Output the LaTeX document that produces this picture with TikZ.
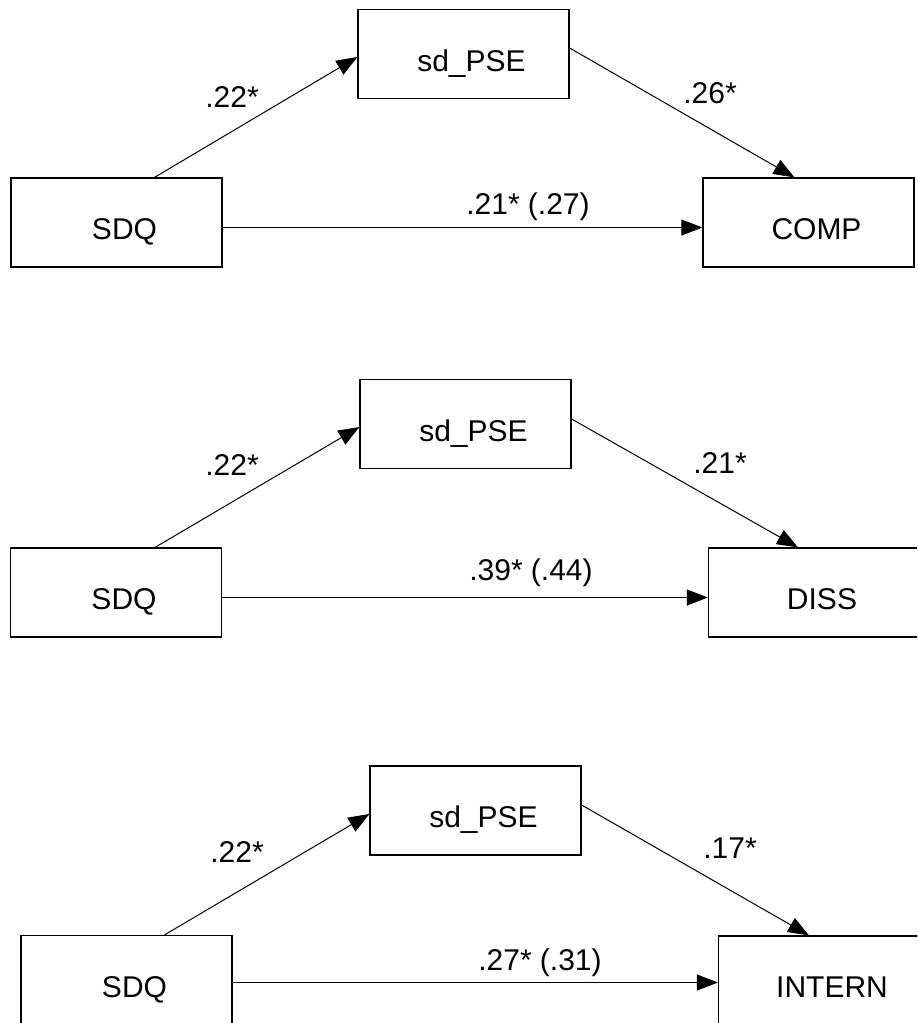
\documentclass[tikz,border=0pt]{standalone}
\usepackage{fontspec}
\setmainfont{Liberation Sans}
\usetikzlibrary{arrows.meta, positioning}

\begin{document}
\begin{tikzpicture}[x=0.5pt, y=-0.5pt,
  font=\fontsize{15}{18}\selectfont,
  var node/.style={rectangle, draw, line width=0.6pt, minimum width=105.5pt,
    minimum height=44.5pt, inner sep=0pt, text height=18pt, text depth=1pt,
    execute at begin node=\hspace*{8pt}},
  coef/.style={inner sep=1pt},
  pathline/.style={line width=0.5pt, -{Triangle[length=10.5pt, width=8pt]}}]
  \clip (0,0) rectangle (917,1023);

  % COMP
  \node[var node] (sdq1) at (116.5,222.5) {SDQ};
  \node[var node] (pse1) at (463.5,54) {sd\_PSE};
  \node[var node] (comp) at (808.5,222.5) {COMP};
  \coordinate (h1) at ([shift={(0,5)}]sdq1.east);
  \draw[pathline] ([shift={(38,0)}]sdq1.north) -- ([shift={(0,3)}]pse1.west);
  \draw[pathline] ([shift={(0,-6)}]pse1.east) -- ([shift={(-14,0)}]comp.north);
  \draw[pathline] (h1) -- (h1 -| comp.west);
  \node[coef] (a1) at (232,97) {.22*};
  \node[coef] (b1) at (710,93) {.26*};
  \node[coef] (c1) at (528,207) {.21* (.27)};

  % DISS
  \node[var node] (sdq2) at (116,592.5) {SDQ};
  \node[var node] (pse2) at (465.5,424) {sd\_PSE};
  \node[var node] (diss) at (814,592.5) {DISS};
  \coordinate (h2) at ([shift={(0,5)}]sdq2.east);
  \draw[pathline] ([shift={(39,0)}]sdq2.north) -- ([shift={(0,3)}]pse2.west);
  \draw[pathline] ([shift={(0,-5)}]pse2.east) -- ([shift={(-16,0)}]diss.north);
  \draw[pathline] (h2) -- (h2 -| diss.west);
  \node[coef] (a2) at (232,465) {.22*};
  \node[coef] (b2) at (720,463) {.21*};
  \node[coef] (c2) at (531,573) {.39* (.44)};

  % INTERN
  \node[var node] (sdq3) at (126.5,980) {SDQ};
  \node[var node] (pse3) at (475.5,810.5) {sd\_PSE};
  \node[var node] (intern) at (824,980.5) {INTERN};
  \coordinate (h3) at ([shift={(0,2.5)}]sdq3.east);
  \draw[pathline] ([shift={(38,0)}]sdq3.north) -- ([shift={(0,3.5)}]pse3.west);
  \draw[pathline] ([shift={(0,-5.5)}]pse3.east) -- ([shift={(-15,0)}]intern.north);
  \draw[pathline] (h3) -- (h3 -| intern.west);
  \node[coef] (a3) at (237,852) {.22*};
  \node[coef] (b3) at (730,848) {.17*};
  \node[coef] (c3) at (540,963) {.27* (.31)};
\end{tikzpicture}
\end{document}
